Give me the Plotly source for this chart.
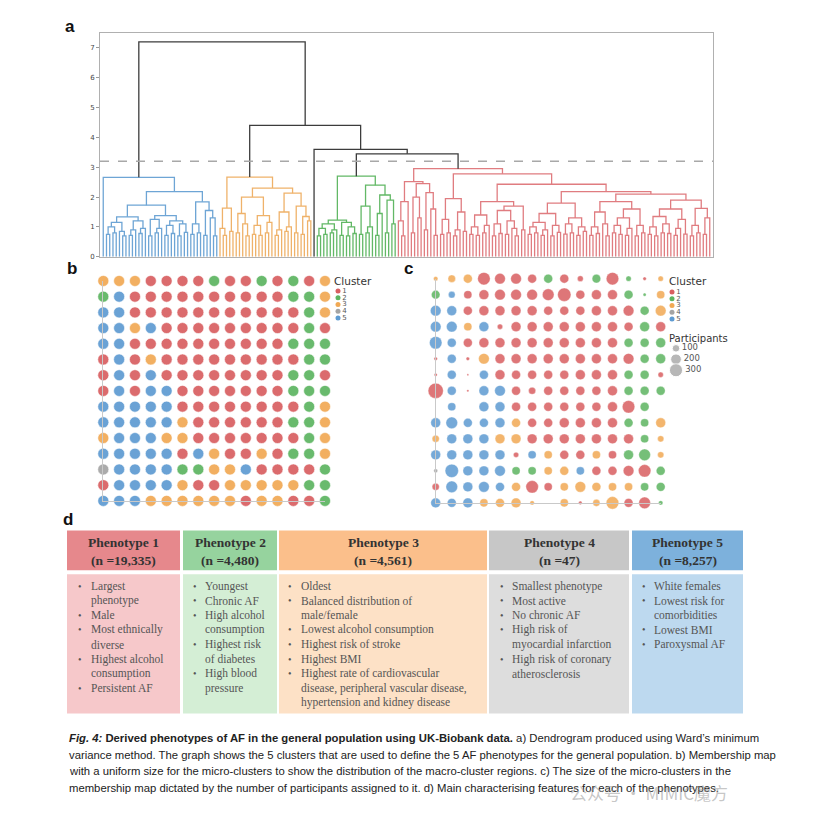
import plotly.graph_objects as go

OFF = 8            # page body margin of the browser
W = H = 817
def px(x): return (x - OFF) / W
def py(y): return 1 - (y - OFF) / H

# ---------------- DATA ----------------
# Dendrogram (Ward linkage) written as nested "(left,right)height" strings; "x" = leaf
SUBTREES = {
    "B1": "((((x,x)0.75,(x,x)0.8)1.0,(x,(x,x)0.7)0.85)1.15,(((x,x)0.72,x)0.9,((x,x)0.78,x)0.95)1.2)1.34",
    "B2": "(((x,x)0.7,((x,x)0.8,x)0.95)1.25,(((x,x)0.72,(x,x)0.78)1.05,((x,x)0.7,(x,x)0.82)1.1)1.2)1.38",
    "B3": "(((x,x)0.75,(x,x)0.8)1.1,((x,x)0.72,(x,(x,x)0.7)1.3)1.55)1.84",
    "O1": "((x,(x,x)0.72)0.95,(x,x)0.85)1.63",
    "O2a": "((x,x)0.8,(x,(x,x)0.7)1.1)1.45",
    "O2b": "(((x,x)0.75,(x,x)0.72)1.05,((x,x)0.8,x)1.15)1.38",
    "O3a": "(((x,x)0.72,x)0.9,((x,x)0.85,x)1.0)1.5",
    "O3b": "((x,x)0.8,((x,x)0.75,(x,x)1.2)1.35)1.7",
    "G1": "((((x,x)0.7,(x,x)0.75)0.95,((x,x)0.8,x)0.9)1.1,((x,x)0.72,((x,x)0.7,(x,x)0.78)1.0)1.15)1.23",
    "G2": "((x,x)0.75,((x,x)0.8,x)1.0)1.7",
    "G3": "(((x,x)0.72,x)1.45,((x,x)0.8,(x,x)1.1)1.9)2.07",
    "RL1": "((x,(x,x)0.7)1.2,x)1.85",
    "RL2": "((x,x)0.8,(x,x)1.3)2.0",
    "RL3": "((x,x)0.9,(x,(x,x)0.72)1.6)2.15",
    "RM": "(((x,x)0.75,(x,x)0.8)1.25,(((x,x)0.7,x)0.9,(x,x)0.85)1.5)1.95",
    "RN": "((((x,x)0.75,(x,x)0.72)1.0,((x,x)0.8,x)1.05)1.4,((((x,x)0.7,(x,x)0.78)1.1,((x,x)0.75,(x,(x,x)0.7)0.95)1.2)1.55,(x,x)0.9)1.7)1.85",
    "RP": "(((((x,x)0.75,(x,x)0.8)1.0,((x,x)0.72,x)0.9)1.15,((x,x)0.7,(x,x)0.82)1.05)1.45,(((x,x)0.76,(x,x)0.8)1.1,((x,x)0.72,(x,x)0.85)1.0)1.3)1.8",
    "RQ": "((((x,x)0.72,(x,x)0.78)1.0,(x,(x,x)0.7)1.1)1.5,((((x,x)0.8,(x,x)0.75)1.05,((x,x)0.72,x)0.95)1.3,((x,x)0.7,(x,x)0.8)1.05)1.6)1.85",
    "RS1": "((((x,x)0.75,(x,x)0.7)1.0,((x,x)0.8,(x,x)0.78)1.1)1.35,(((x,x)0.72,x)0.95,(x,x)0.76)1.25)1.6",
    "RS2": "(((x,x)0.7,(x,x)0.8)1.05,((x,x)0.75,x)1.3)1.62",
}
CLUSTER_TREES = {
    "C5": "(x,((B1,B2)1.73,B3)2.18)2.66",
    "C3": "(O1,((O2a,O2b)2.0,(O3a,O3b)2.13)2.3)2.67",
    "C2": "(G1,(G2,G3)2.4)2.7",
    "C1": "((RL1,(RL2,RL3)2.45)2.52,(RM,(RN,(RP,(RQ,(RS1,RS2)1.9)2.1)2.18)2.43)2.78)2.95",
}
TOP_TREE = "(C5,(C3,(x,(C2,C1)3.45)3.6)4.4)7.2"
THRESHOLD = 3.2
Y_TICKS = [0, 1, 2, 3, 4, 5, 6, 7]

# Membership map (15 x 15 micro-clusters), macro-cluster of each cell (rows top->bottom)
MAP_ROWS = [
    "333111121121213",
    "251111111111223",
    "551111111111123",
    "553511111111121",
    "551111111111222",
    "151311111111122",
    "151511111111221",
    "151551111111222",
    "555551111111123",
    "555553111111223",
    "355533111111123",
    "555551531131223",
    "455552233511112",
    "155553113333322",
    "555333333133112",
]
# Participants per micro-cluster
COUNTS = [
    [35, 100, 140, 275, 200, 200, 140, 140, 140, 60, 130, 275, 50, 22, 50],
    [130, 80, 115, 170, 200, 200, 200, 240, 315, 140, 170, 170, 140, 17, 115],
    [200, 170, 140, 170, 170, 170, 170, 140, 140, 140, 170, 170, 200, 140, 200],
    [200, 200, 115, 170, 50, 170, 170, 170, 170, 170, 170, 170, 140, 170, 170],
    [275, 140, 140, 170, 170, 170, 170, 170, 170, 170, 170, 170, 140, 140, 170],
    [22, 140, 22, 200, 170, 170, 170, 170, 170, 170, 170, 170, 200, 140, 170],
    [17, 140, 6, 140, 170, 140, 140, 140, 140, 170, 170, 170, 140, 140, 50],
    [405, 140, 9, 170, 200, 140, 90, 140, 140, 140, 140, 170, 140, 140, 140],
    [0, 115, 0, 170, 170, 140, 140, 140, 140, 140, 140, 170, 275, 140, 0],
    [170, 240, 140, 140, 170, 140, 140, 140, 170, 170, 170, 170, 140, 115, 170],
    [90, 170, 170, 170, 170, 170, 170, 170, 170, 170, 170, 170, 170, 115, 70],
    [170, 170, 170, 170, 170, 50, 115, 115, 140, 140, 115, 115, 170, 240, 70],
    [28, 315, 170, 170, 200, 115, 115, 115, 140, 115, 140, 140, 200, 275, 140],
    [90, 240, 170, 200, 140, 140, 275, 115, 115, 200, 140, 115, 115, 115, 140],
    [170, 140, 170, 115, 140, 170, 35, 0, 115, 22, 90, 275, 140, 240, 35],
]
CLUSTER_IDS = ["1", "2", "3", "4", "5"]
PARTICIPANT_LEGEND = [100, 200, 300]

PHENOTYPES = ["Phenotype 1", "Phenotype 2", "Phenotype 3", "Phenotype 4", "Phenotype 5"]
N_VALUES = ["19,335", "4,480", "4,561", "47", "8,257"]
FEATURES = [
    ["Largest\nphenotype", "Male", "Most ethnically\ndiverse", "Highest alcohol\nconsumption", "Persistent AF"],
    ["Youngest", "Chronic AF", "High alcohol\nconsumption", "Highest risk\nof diabetes", "High blood\npressure"],
    ["Oldest", "Balanced distribution of\nmale/female", "Lowest alcohol consumption",
     "Highest risk of stroke", "Highest BMI",
     "Highest rate of cardiovascular\ndisease, peripheral vascular disease,\nhypertension and kidney disease"],
    ["Smallest phenotype", "Most active", "No chronic AF", "High risk of\nmyocardial infarction",
     "High risk of coronary\natherosclerosis"],
    ["White females", "Lowest risk for\ncomorbidities", "Lowest BMI", "Paroxysmal AF"],
]
CAPTION_LINES = [
    "<b><i>Fig. 4:</i> Derived phenotypes of AF in the general population using UK-Biobank data.</b> a) Dendrogram produced using Ward\u2019s minimum",
    "variance method. The graph shows the 5 clusters that are used to define the 5 AF phenotypes for the general population. b) Membership map",
    "with a uniform size for the micro-clusters to show the distribution of the macro-cluster regions. c) The size of the micro-clusters in the",
    "membership map dictated by the number of participants assigned to it. d) Main characterising features for each of the phenotypes.",
]
WATERMARK = "公众号 · MIMIC魔方"

# ---------------- STYLE ----------------
DOT_COLORS = {"1": "#d95f61", "2": "#5db561", "3": "#f1a954", "4": "#a4a4a4", "5": "#5e9bd2"}
DENDRO_COLORS = {"C1": "#e07c80", "C2": "#62b866", "C3": "#efb26a", "C5": "#6ea5d5"}
ABOVE_COLOR = "#3c3c3c"
HEAD_COLORS = ["#e6888c", "#96d39e", "#fbbf8b", "#c7c7c7", "#7db1dc"]
BODY_COLORS = ["#f6c8ca", "#d4eed5", "#fde1c6", "#dddddd", "#bdd9ef"]
COL_X = [(67, 180), (183, 277), (279, 487), (489, 629), (632, 743)]
BULLET_X = [76, 191, 286, 498, 640]
TEXT_X = [89, 203, 299, 510, 652]
SIZEREF = 3.5

# ---------------- DENDROGRAM ----------------
def parse(s, color):
    pos = 0
    def node():
        nonlocal pos
        if s[pos] == "(":
            pos += 1
            left = node()
            pos += 1  # ','
            right = node()
            pos += 1  # ')'
            j = pos
            while pos < len(s) and (s[pos].isdigit() or s[pos] == "."):
                pos += 1
            return {"h": float(s[j:pos]), "kids": [left, right], "color": color}
        j = pos
        while pos < len(s) and s[pos].isalnum():
            pos += 1
        name = s[j:pos]
        if name == "x":
            return {"h": 0.0, "kids": [], "color": color}
        if name in CLUSTER_TREES:
            return parse(CLUSTER_TREES[name], DENDRO_COLORS[name])
        return parse(SUBTREES[name], color)
    return node()

root = parse(TOP_TREE, ABOVE_COLOR)
leaf_counter = [0]
segs = {}
def layout(n):
    if not n["kids"]:
        n["x"] = leaf_counter[0]
        leaf_counter[0] += 1
        return
    for k in n["kids"]:
        layout(k)
    a, b = n["kids"]
    n["x"] = (a["x"] + b["x"]) / 2
    xs, ys = segs.setdefault(n["color"], ([], []))
    xs += [a["x"], a["x"], b["x"], b["x"], None]
    ys += [a["h"], n["h"], n["h"], b["h"], None]
layout(root)
N_LEAVES = leaf_counter[0]

fig = go.Figure()
for col, (xs, ys) in segs.items():
    fig.add_trace(go.Scatter(x=xs, y=ys, mode="lines", line=dict(color=col, width=1.3),
                             xaxis="x", yaxis="y", hoverinfo="skip"))
fig.add_shape(type="line", xref="x domain", yref="y", x0=0, x1=1, y0=THRESHOLD, y1=THRESHOLD,
              line=dict(color="#a8a8a8", width=1.6, dash="dash"))

# ---------------- MEMBERSHIP MAPS ----------------
for cid in CLUSTER_IDS:
    xs, ys, cs = [], [], []
    for r, row in enumerate(MAP_ROWS):
        for c, v in enumerate(row):
            if v == cid:
                xs.append(c + 1); ys.append(r + 1); cs.append(COUNTS[r][c])
    fig.add_trace(go.Scatter(x=xs, y=ys, mode="markers", xaxis="x2", yaxis="y2", cliponaxis=False,
                             marker=dict(size=11, color=DOT_COLORS[cid], opacity=0.92,
                                         line=dict(width=1, color="rgba(255,255,255,0.55)"))))
    fig.add_trace(go.Scatter(x=xs, y=ys, mode="markers", xaxis="x3", yaxis="y3", cliponaxis=False,
                             marker=dict(size=cs, sizemode="area", sizeref=SIZEREF, sizemin=0,
                                         color=DOT_COLORS[cid], opacity=0.85,
                                         line=dict(width=0.6, color="rgba(255,255,255,0.6)"))))

# legends (cluster keys)
leg_y = list(range(1, len(CLUSTER_IDS) + 1))
for ax in ("4", "5"):
    fig.add_trace(go.Scatter(x=[0] * len(CLUSTER_IDS), y=leg_y, mode="markers+text",
                             text=CLUSTER_IDS, textposition="middle right",
                             textfont=dict(size=7, color="#555", family="DejaVu Sans"),
                             marker=dict(size=5, color=[DOT_COLORS[c] for c in CLUSTER_IDS]),
                             xaxis="x" + ax, yaxis="y" + ax, cliponaxis=False))
fig.add_trace(go.Scatter(x=[0] * len(PARTICIPANT_LEGEND), y=list(range(1, len(PARTICIPANT_LEGEND) + 1)),
                         mode="markers+text", text=[str(v) for v in PARTICIPANT_LEGEND],
                         textposition="middle right",
                         textfont=dict(size=8.5, color="#555", family="DejaVu Sans"),
                         marker=dict(size=PARTICIPANT_LEGEND, sizemode="area", sizeref=SIZEREF, color="#999999"),
                         xaxis="x6", yaxis="y6", cliponaxis=False))

hidden = dict(visible=False, fixedrange=True)
fig.update_layout(
    width=W, height=H, margin=dict(l=0, r=0, t=0, b=0), showlegend=False,
    paper_bgcolor="white", plot_bgcolor="white",
    xaxis=dict(domain=[px(100), px(713)], range=[-1, N_LEAVES], showticklabels=False, ticks="",
               showgrid=False, zeroline=False, showline=True, mirror=True, linecolor="#b0b0b0", linewidth=1),
    yaxis=dict(domain=[py(258), py(33)], range=[0, 7.5], tickvals=Y_TICKS, ticks="outside", ticklen=3,
               tickcolor="#999", tickfont=dict(size=7, color="#444", family="DejaVu Sans"),
               showgrid=False, zeroline=False, showline=True, mirror=True, linecolor="#b0b0b0", linewidth=1),
    xaxis2=dict(domain=[px(103.3), px(325)], range=[1, 15], showticklabels=False, ticks="", showgrid=False,
                zeroline=False, showline=True, linecolor="#c9c9c9", anchor="y2"),
    yaxis2=dict(domain=[py(503.3), py(282.3)], range=[15, 1], showticklabels=False, ticks="", showgrid=False,
                zeroline=False, showline=True, linecolor="#c9c9c9", anchor="x2"),
    xaxis3=dict(domain=[px(435.7), px(660.7)], range=[1, 15], showticklabels=False, ticks="", showgrid=False,
                zeroline=False, showline=True, linecolor="#c9c9c9", anchor="y3"),
    yaxis3=dict(domain=[py(505.3), py(280)], range=[15, 1], showticklabels=False, ticks="", showgrid=False,
                zeroline=False, showline=True, linecolor="#c9c9c9", anchor="x3"),
    xaxis4=dict(domain=[px(338), px(375)], range=[0, 1], anchor="y4", **hidden),
    yaxis4=dict(domain=[py(323), py(289)], range=[5.5, 0.5], anchor="x4", **hidden),
    xaxis5=dict(domain=[px(672), px(710)], range=[0, 1], anchor="y5", **hidden),
    yaxis5=dict(domain=[py(324), py(290)], range=[5.5, 0.5], anchor="x5", **hidden),
    xaxis6=dict(domain=[px(676), px(720)], range=[0, 1], anchor="y6", **hidden),
    yaxis6=dict(domain=[py(377.5), py(344.5)], range=[3.5, 0.5], anchor="x6", **hidden),
)

ann = []
def text(x, y, s, size, color="#222", family="Liberation Sans", xanchor="left", yanchor="middle", **kw):
    ann.append(dict(x=px(x), y=py(y), xref="paper", yref="paper", text=s, showarrow=False,
                    xanchor=xanchor, yanchor=yanchor, font=dict(size=size, color=color, family=family), **kw))

# panel letters
text(63, 27, "<b>a</b>", 17, "#111")
text(65, 270, "<b>b</b>", 17, "#111")
text(402, 270, "<b>c</b>", 17, "#111")
text(61, 522, "<b>d</b>", 17, "#111")
# legend titles
text(332, 282, "Cluster", 10.5, "#333", "DejaVu Sans")
text(667, 282, "Cluster", 10.5, "#333", "DejaVu Sans")
text(667, 340, "Participants", 10, "#333", "DejaVu Sans")

# ---------------- TABLE ----------------
shapes = list(fig.layout.shapes)
for i, (x0, x1) in enumerate(COL_X):
    shapes.append(dict(type="rect", xref="paper", yref="paper", x0=px(x0), x1=px(x1), y0=py(573), y1=py(533),
                       fillcolor=HEAD_COLORS[i], line=dict(width=0), layer="below"))
    shapes.append(dict(type="rect", xref="paper", yref="paper", x0=px(x0), x1=px(x1), y0=py(717), y1=py(577),
                       fillcolor=BODY_COLORS[i], line=dict(width=0), layer="below"))
    cx = (x0 + x1) / 2
    text(cx, 545.5, "<b>%s</b>" % PHENOTYPES[i], 13.5, "#333", "Liberation Serif", xanchor="center")
    text(cx, 563.5, "<b>(n =%s)</b>" % N_VALUES[i], 13.5, "#333", "Liberation Serif", xanchor="center")
    line = 0
    for feat in FEATURES[i]:
        parts = feat.split("\n")
        text(BULLET_X[i], 589 + line * 14.67, "\u2022", 10, "#555", "Liberation Serif")
        for p in parts:
            text(TEXT_X[i], 589 + line * 14.67, p, 11.5, "#555", "Liberation Serif")
            line += 1
fig.update_layout(shapes=shapes)

# ---------------- CAPTION ----------------
for k, s in enumerate(CAPTION_LINES):
    text(67, 742 + k * 16.6, s, 11.3, "#222", "Liberation Sans")
text(568, 796, WATERMARK, 17, "rgba(150,150,150,0.55)", "Noto Sans CJK SC")

fig.update_layout(annotations=ann)
fig.write_html("out.html")
